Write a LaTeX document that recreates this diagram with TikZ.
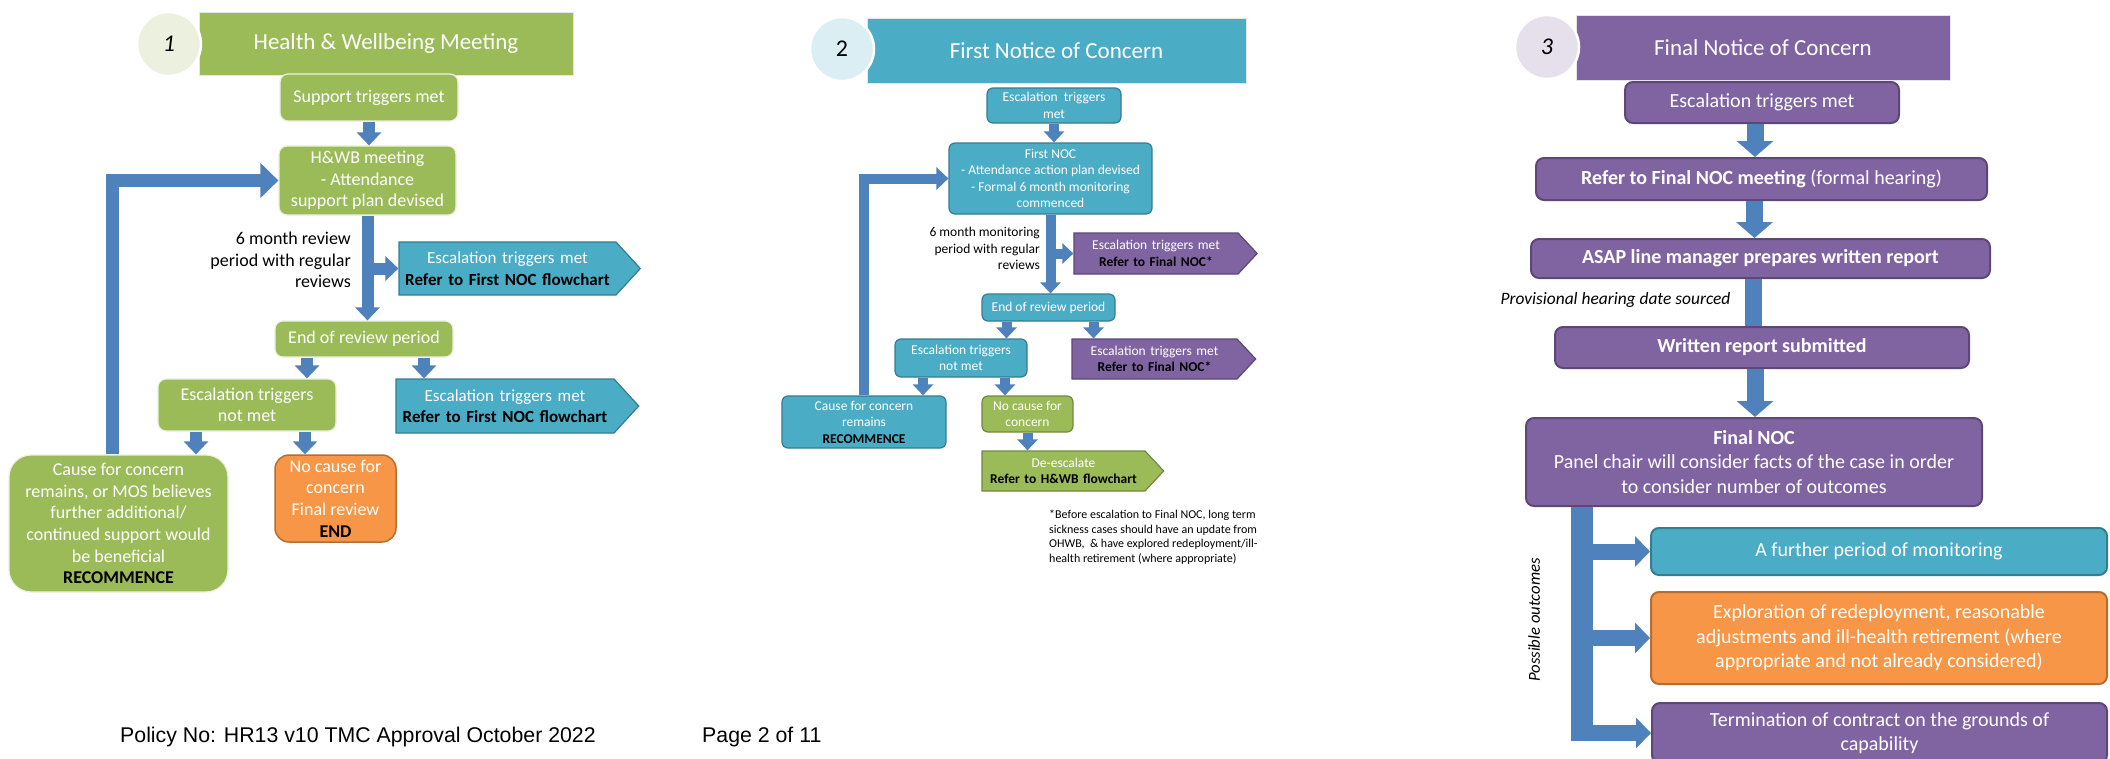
\documentclass[tikz,border=0pt]{standalone}
\usepackage{fontspec}
\setmainfont{Carlito}
\newfontfamily\arialfont{Liberation Sans}
\usetikzlibrary{arrows.meta,shapes.symbols}

\definecolor{hgreen}{HTML}{9BBB59}
\definecolor{hgreend}{HTML}{71893F}
\definecolor{hteal}{HTML}{4BACC6}
\definecolor{htealdk}{HTML}{357D91}
\definecolor{hpurple}{HTML}{8064A2}
\definecolor{hpurpledk}{HTML}{5C4776}
\definecolor{horange}{HTML}{F79646}
\definecolor{horangedk}{HTML}{B66D31}
\definecolor{hblue}{HTML}{4F81BD}
\definecolor{lgreen}{HTML}{EBF1DE}
\definecolor{lteal}{HTML}{DAEEF3}
\definecolor{lpurple}{HTML}{E5E0EC}

\def\px{1pt}
\newcommand\fa{\fontsize{18}{21.6}\selectfont}
\newcommand\fas{\fontsize{17}{21.6}\selectfont}
\newcommand\fb{\fontsize{13.5}{16.5}\selectfont}
\newcommand\fc{\fontsize{20}{24.5}\selectfont}
\newcommand\ftl{\fontsize{23}{27}\selectfont}
\newcommand\fnum{\fontsize{24}{28}\selectfont}
\newcommand\blk[1]{\textcolor{black}{\textbf{#1}}}

\begin{document}
\begin{tikzpicture}[x=\px,y=-\px]
	\tikzstyle{box}=[rectangle,rounded corners=8,align=center,text=white,inner sep=1]
	\tikzstyle{gbox}=[box,fill=hgreen,draw=white!80!hgreen,line width=1.2,font=\fa]
	\tikzstyle{gboxb}=[box,fill=hgreen,draw=hgreend,line width=1.2,rounded corners=6,font=\fb]
	\tikzstyle{tbox}=[box,fill=hteal,draw=htealdk,line width=1.2,rounded corners=6,font=\fb]
	\tikzstyle{tboxc}=[box,fill=hteal,draw=htealdk,line width=2,font=\fc]
	\tikzstyle{pbox}=[box,fill=hpurple,draw=hpurpledk,line width=2,font=\fc]
	\tikzstyle{obox}=[box,fill=horange,draw=horangedk,line width=1.5]
	\tikzstyle{sig}=[signal,signal to=east,signal from=nowhere,align=center,text=white,inner sep=1,line width=1.2]
	\tikzstyle{tsig}=[sig,fill=hteal,draw=htealdk,font=\fas,signal pointer angle=95]
	\tikzstyle{psig}=[sig,fill=hpurple,draw=hpurpledk,font=\fb,signal pointer angle=94]
	\tikzstyle{gsig}=[sig,fill=hgreen,draw=hgreend,font=\fb,signal pointer angle=94]
	\tikzstyle{banner}=[rectangle,text=white,draw=white!80!gray,line width=1,font=\ftl]
	\tikzstyle{numc}=[circle,minimum size=64,inner sep=0,draw=white,line width=2.5,font=\fnum]
	\tikzstyle{lab}=[text=black,inner sep=0]
	\tikzstyle{ba}=[draw=hblue,line width=12,-{Triangle[length=13pt,width=24pt]}]
	\tikzstyle{bb}=[draw=hblue,line width=10,-{Triangle[length=11pt,width=20pt]}]
	\tikzstyle{bc}=[draw=hblue,line width=17,-{Triangle[length=16pt,width=36pt]}]
	\tikzstyle{bd}=[draw=hblue,line width=16,-{Triangle[length=15pt,width=30pt]}]
	\fill[white] (0,0) rectangle (2110,758);
	\useasboundingbox (0,0) rectangle (2110,758);

	\node[banner,fill=hgreen,minimum width=374,minimum height=63] (ban1) at (386,43.5) {Health \& Wellbeing Meeting};
	\node[numc,fill=lgreen] (num1) at (169,44) {\textit{1}};
	\node[gbox,minimum width=178,minimum height=47] (sup1) at (369,97.5) {Support triggers met};
	\node[gbox,minimum width=177,minimum height=69] (hwb1) at (367.5,180.5) {H\&WB meeting\\- Attendance\\support plan devised};
	\node[tsig,text width=215,minimum height=53] (esc1a) at (507.5,268.5) {Escalation triggers met\\\blk{Refer to First NOC flowchart}};
	\node[lab,font=\fa,anchor=east,align=right] (rev1) at (351,260) {6 month review\\period with regular\\reviews};
	\node[gbox,minimum width=178,minimum height=36] (end1) at (364,339) {End of review period};
	\node[gbox,minimum width=178,minimum height=52] (nm1) at (247,405) {Escalation triggers\\not met};
	\node[tsig,text width=216,minimum height=54] (esc1b) at (505,406) {Escalation triggers met\\\blk{Refer to First NOC flowchart}};
	\node[gbox,rounded corners=22,minimum width=219,minimum height=137] (cause1) at (118.5,523.5) {Cause for concern\\remains, or MOS believes\\further additional/\\continued support would\\be beneficial\\\blk{RECOMMENCE}};
	\node[obox,font=\fa,rounded corners=14,minimum width=121,minimum height=87,inner sep=0] (noc1) at (335.5,498.5) {No cause for\\concern\\Final review\\\blk{END}};
	\draw[ba] (sup1.south) -- (sup1.south |- hwb1.north);
	\draw[ba] (hwb1.south) -- (hwb1.south |- end1.north);
	\draw[ba] (hwb1.south |- esc1a.west) -- (esc1a.west);
	\draw[ba] ([xshift=-57pt]end1.south) -- ([xshift=-57pt]end1.south |- nm1.north);
	\draw[ba] ([xshift=60pt]end1.south) -- ([xshift=60pt]end1.south |- esc1b.north);
	\draw[ba] ([xshift=-51pt]nm1.south) -- ([xshift=-51pt]nm1.south |- cause1.north);
	\draw[ba] ([xshift=58pt]nm1.south) -- ([xshift=58pt]nm1.south |- noc1.north);
	\draw[ba,line width=13,-{Triangle[length=18pt,width=34pt]}] ([xshift=-6pt]cause1.north) |- (hwb1.west);

	\node[banner,fill=hteal,minimum width=379,minimum height=65] (ban2) at (1056.5,50.5) {First Notice of Concern};
	\node[numc,fill=lteal] (num2) at (842,49) {2};
	\node[tbox,minimum width=134,minimum height=35] (esct2) at (1054,105.5) {Escalation~ triggers\\met};
	\node[tbox,minimum width=203,minimum height=71] (fnoc2) at (1050.5,178.5) {First NOC\\- Attendance action plan devised\\- Formal 6 month monitoring\\commenced};
	\node[psig,text width=162,minimum height=41] (escp2a) at (1156,253.5) {Escalation triggers met\\\blk{Refer to Final NOC*}};
	\node[lab,font=\fb,anchor=east,align=right] (rev2) at (1040,248.5) {6 month monitoring\\period with regular\\reviews};
	\node[tbox,minimum width=133,minimum height=27] (end2) at (1048.5,307.5) {End of review period};
	\node[tbox,minimum width=132,minimum height=38] (nm2) at (961,358) {Escalation triggers\\not met};
	\node[psig,text width=163,minimum height=40] (escp2b) at (1154.5,359) {Escalation triggers met\\\blk{Refer to Final NOC*}};
	\node[tbox,minimum width=164,minimum height=52] (cause2) at (864,422) {Cause for concern\\remains\\\blk{RECOMMENCE}};
	\node[gboxb,minimum width=91,minimum height=36] (ncause2) at (1027.5,414) {No cause for\\concern};
	\node[gsig,text width=161,minimum height=40] (desc2) at (1063.5,471) {De-escalate\\\blk{Refer to H\&WB flowchart}};
	\node[lab,anchor=north west,align=left,font=\fontsize{12}{14.6}\selectfont] (note2) at (1049,510) {*Before escalation to Final NOC, long term\\sickness cases should have an update from\\OHWB,~ \& have explored redeployment/ill-\\health retirement (where appropriate)};
	\draw[bb] (esct2.south) -- (esct2.south |- fnoc2.north);
	\draw[bb] (fnoc2.south) -- (fnoc2.south |- end2.north);
	\draw[bb] (fnoc2.south |- escp2a.west) -- (escp2a.west);
	\draw[bb] ([xshift=-42pt]end2.south) -- ([xshift=-42pt]end2.south |- nm2.north);
	\draw[bb] ([xshift=45pt]end2.south) -- ([xshift=45pt]end2.south |- escp2b.north);
	\draw[bb] ([xshift=-38pt]nm2.south) -- ([xshift=-38pt]nm2.south |- cause2.north);
	\draw[bb] ([xshift=44pt]nm2.south) -- ([xshift=44pt]nm2.south |- ncause2.north);
	\draw[bb] (ncause2.south) -- (ncause2.south |- desc2.north);
	\draw[bb,-{Triangle[length=12pt,width=22pt]}] (cause2.north) |- (fnoc2.west);

	\node[banner,fill=hpurple,minimum width=374,minimum height=65] (ban3) at (1763,47.5) {Final Notice of Concern};
	\node[numc,fill=lpurple] (num3) at (1547,47) {\textit{3}};
	\node[pbox,minimum width=274,minimum height=41] (esct3) at (1762,102.5) {Escalation triggers met};
	\node[pbox,minimum width=451,minimum height=42] (refer3) at (1761.5,179) {\textbf{Refer to Final NOC meeting} (formal hearing)};
	\node[pbox,minimum width=459,minimum height=39] (asap3) at (1760.5,258.5) {\textbf{ASAP line manager prepares written report}};
	\node[lab,font=\fontsize{17.4}{20}\selectfont\itshape] (prov3) at (1615.5,300) {Provisional hearing date sourced};
	\node[pbox,minimum width=414,minimum height=41] (writ3) at (1762,347.5) {\textbf{Written report submitted}};
	\node[pbox,minimum width=456,minimum height=88] (fnoc3) at (1754,462) {\textbf{Final NOC}\\Panel chair will consider facts of the case in order\\to consider number of outcomes};
	\node[tboxc,minimum width=456,minimum height=47] (mon3) at (1879,551.5) {A further period of monitoring};
	\node[obox,line width=2,font=\fc,minimum width=456,minimum height=92] (expl3) at (1879,638) {Exploration of redeployment, reasonable\\adjustments and ill-health retirement (where\\appropriate and not already considered)};
	\node[pbox,minimum width=455,minimum height=60] (term3) at (1879.5,733) {Termination of contract on the grounds of\\capability};
	\node[lab,rotate=90,font=\fontsize{16.7}{20}\selectfont\itshape] (poss3) at (1534,620) {Possible outcomes};
	\draw[bc] ([xshift=-7pt]esct3.south) -- ([xshift=-7pt]esct3.south |- refer3.north);
	\draw[bc] ([xshift=-7pt]refer3.south) -- ([xshift=-7pt]refer3.south |- asap3.north);
	\draw[bc,-] ([xshift=-7pt]asap3.south) -- ([xshift=-7pt]asap3.south |- writ3.north);
	\draw[bc] ([xshift=-7pt]writ3.south) -- ([xshift=-7pt]writ3.south |- fnoc3.north);
	\coordinate (tree) at ([xshift=-172pt]fnoc3.south);
	\draw[draw=hblue,line width=22] (tree) -- ++(0,234);
	\draw[bd] (tree |- mon3.west) -- (mon3.west);
	\draw[bd] (tree |- expl3.west) -- (expl3.west);
	\draw[bd] (tree |- term3.west) -- (term3.west);

	\node[lab,anchor=west,font=\arialfont\fontsize{21.3}{25}\selectfont] (foot) at (120,737) {Policy No: HR13 v10 TMC Approval October 2022};
	\node[lab,anchor=west,font=\arialfont\fontsize{21.3}{25}\selectfont] (page) at (702,737) {Page 2 of 11};
\end{tikzpicture}
\end{document}
